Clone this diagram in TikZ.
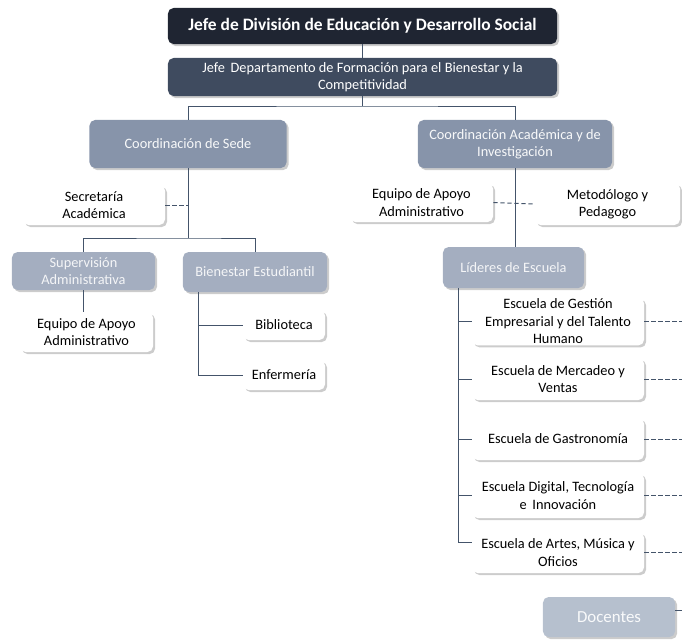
\documentclass[tikz,border=0pt]{standalone}
\usepackage{fontspec}
\setmainfont{Carlito}
\usetikzlibrary{positioning,shadows,calc}
\definecolor{jefeC}{HTML}{1F2532}
\definecolor{deptC}{HTML}{3F4B5F}
\definecolor{coordC}{HTML}{8794AA}
\definecolor{subC}{HTML}{A4AEC0}
\definecolor{docC}{HTML}{B6C0CE}
\definecolor{lineC}{HTML}{44546A}
\newcommand{\orgfont}{\fontsize{10.2}{12.4}\selectfont}

\begin{document}
\begin{tikzpicture}[x=0.025cm,y=-0.025cm,
  box/.style={rounded corners=4pt,align=center,inner sep=1pt,font=\orgfont,
    drop shadow={shadow xshift=1.5pt,shadow yshift=-1.5pt,opacity=0.4}},
  jefebox/.style={box,fill=jefeC,text=white,font=\fontsize{12.4}{14}\selectfont\bfseries},
  deptbox/.style={box,fill=deptC,text=white},
  coordbox/.style={box,fill=coordC,text=white!94!coordC},
  subbox/.style={box,fill=subC,text=white!88!subC},
  docbox/.style={box,fill=docC,text=white!92!docC,font=\fontsize{12}{14}\selectfont},
  plainbox/.style={box,fill=white,text=black},
  link/.style={draw=lineC,line width=0.7pt},
  dashlink/.style={link,dashed,dash pattern=on 3pt off 2pt}]
\useasboundingbox (0,0) rectangle (682,639);
% top of the chart
\node[jefebox,minimum width=9.725cm,minimum height=0.9cm] (jefe) at (362.5,26) {Jefe de División de Educación y Desarrollo Social};
\node[deptbox,minimum width=9.725cm,minimum height=0.95cm] (dept) at (362.5,77) {Jefe\, Departamento de Formación para el Bienestar y la\\Competitividad};
\node[coordbox,minimum width=4.925cm,minimum height=1.2cm] (sede) at (188,144) {Coordinación de Sede};
\node[coordbox,minimum width=4.85cm,minimum height=1.2cm] (acad) at (515,144) {Coordinación Académica y de\\Investigación};
\coordinate (split) at (362.5,106);
\draw[link] (jefe) -- (dept);
\draw[link] (dept) -- (split);
\draw[link] (sede.north) |- (split) -| (acad.north);
% left branch
\node[plainbox,minimum width=3.55cm,minimum height=1cm] (secr) at (94,205) {Secretaría\\Académica};
\node[subbox,minimum width=3.575cm,minimum height=0.95cm] (superv) at (83.5,271) {Supervisión\\Administrativa};
\node[subbox,minimum width=3.6cm,minimum height=1cm] (bien) at (255,272) {Bienestar Estudiantil};
\node[plainbox,minimum width=3.325cm,minimum height=1cm] (apoyoL) at (86.5,332) {Equipo de Apoyo\\Administrativo};
\node[plainbox,minimum width=2.05cm,minimum height=0.75cm] (biblio) at (284,325) {Biblioteca};
\node[plainbox,minimum width=2.05cm,minimum height=0.75cm] (enfer) at (284,375) {Enfermería};
\coordinate (sedesplit) at (188,238);
\draw[link] (sede.south) -- (sedesplit);
\draw[link] (superv.north) |- (sedesplit) -| (bien.north);
\draw[dashlink] (secr.east) -- (secr.east -| sede.south);
\draw[link] (superv.south) -- (superv.south |- apoyoL.north);
\coordinate (bientop) at (198,292);
\draw[link] (bientop) |- (enfer.west);
\draw[link] (bientop |- biblio.west) -- (biblio.west);
% right branch
\node[plainbox,minimum width=3.575cm,minimum height=0.98cm] (apoyoR) at (421.5,202.5) {Equipo de Apoyo\\Administrativo};
\node[plainbox,minimum width=3.625cm,minimum height=1.05cm] (metod) at (607.5,204) {Metodólogo y\\Pedagogo};
\node[subbox,minimum width=3.525cm,minimum height=1.025cm] (lider) at (513.5,267.5) {Líderes de Escuela};
\draw[link] (acad.south) -- (acad.south |- lider.north);
\draw[dashlink] (apoyoR.east) -- (metod.west);
% schools
\foreach \nm/\yy/\hh/\txt in {gest/321.5/1.175/{Escuela de Gestión\\Empresarial y del Talento\\Humano},
    merc/379/1.05/{Escuela de Mercadeo y\\Ventas},
    gast/439/1.05/{Escuela de Gastronomía},
    digi/495.5/1.125/{Escuela Digital, Tecnología\\e\, Innovación},
    arte/552.5/1.025/{Escuela de Artes, Música y\\Oficios}}{
  \node[plainbox,minimum width=4.3cm,minimum height=\hh cm] (\nm) at (558,\yy) {\txt};
  \coordinate (\nm-out) at (682,\yy);
  \draw[dashlink] (\nm.east) -- (\nm-out);
}
\coordinate (trunk) at (458,288);
\coordinate (trunkend) at (458,542);
\draw[link] (trunk) -- (trunkend) -- (472,542);
\foreach \nm in {gest,merc,gast,digi}
  \draw[link] (trunk |- \nm.west) -- (\nm.west);
\node[docbox,minimum width=3.3cm,minimum height=1cm] (docen) at (609,617) {Docentes};
\coordinate (docen-out) at (682,610);
\draw[link] (docen.east |- docen-out) -- (docen-out);
\end{tikzpicture}
\end{document}
